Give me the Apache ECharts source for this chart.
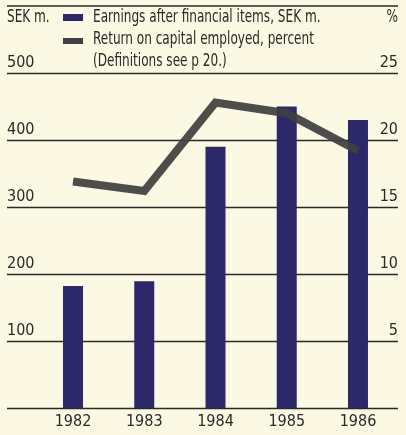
<!DOCTYPE html>
<html>
<head>
<meta charset="utf-8">
<script src="https://cdn.jsdelivr.net/npm/echarts@6/dist/echarts.min.js"></script>
<style>
  html, body { margin: 0; padding: 0; background: #fbf8e3; }
  #chart { width: 406px; height: 435px; }
</style>
</head>
<body>
<div id="chart"></div>
<script>
// Earnings and return on capital employed, 1982–1986
const years = ['1982', '1983', '1984', '1985', '1986'];
const earnings = [182, 189, 390, 450, 430];             // SEK m.
const returnOnCapital = [16.9, 16.2, 22.8, 22.0, 19.2]; // percent
const leftTicks = [0, 100, 200, 300, 400, 500];
const rightTicks = [0, 5, 10, 15, 20, 25];

const seriesNames = ['Earnings after financial items, SEK m.', 'Return on capital employed, percent'];
const noteText = '(Definitions see p 20.)';

const FONT = '"DejaVu Sans Condensed", "DejaVu Sans", sans-serif';
const INK = '#2a2a2a';
const BAR = '#2c2869';
const LINE = '#404040';
const SQUEEZE = 0.79; // horizontal compression for the condensed headline type

const chart = echarts.init(document.getElementById('chart'), null, { renderer: 'canvas' });

const labelStyle = {
  fontFamily: FONT, fontSize: 16, color: INK,
  verticalAlign: 'bottom', lineHeight: 16, padding: [0, 0, 2, 0]
};

function headText(text, x, y, align) {
  return {
    type: 'text', x: x, y: y, scaleX: SQUEEZE,
    style: { text: text, font: '17px ' + FONT, fill: INK, align: align || 'left', verticalAlign: 'middle' }
  };
}

chart.setOption({
  backgroundColor: '#fbf8e3',
  animation: false,
  grid: [
    // full-width frame carrying the rules and scale labels
    { left: 7, right: 8, top: 73, bottom: 27 },
    // plotting area for the bars and the line
    { left: 37.4, right: 12.4, top: 73, bottom: 27 }
  ],
  graphic: [
    { type: 'line', shape: { x1: 7, y1: 6, x2: 398, y2: 6 }, style: { stroke: INK, lineWidth: 1.5 } },
    headText('SEK m.', 7, 18),
    headText('%', 398, 18, 'right'),
    { type: 'rect', shape: { x: 63, y: 14, width: 20, height: 7 }, style: { fill: BAR } },
    headText(seriesNames[0], 93, 18),
    { type: 'rect', shape: { x: 63, y: 38, width: 20, height: 6 }, style: { fill: LINE } },
    headText(seriesNames[1], 93, 40),
    headText(noteText, 93, 62)
  ],
  xAxis: [
    { gridIndex: 0, type: 'value', min: 0, max: 1, show: false },
    {
      gridIndex: 1, type: 'category', data: years,
      axisLine: { show: false }, axisTick: { show: false },
      axisLabel: { fontFamily: FONT, fontSize: 16, color: INK, margin: 6 }
    }
  ],
  yAxis: [
    {
      gridIndex: 0, type: 'value', position: 'left',
      min: leftTicks[0], max: leftTicks[leftTicks.length - 1], interval: 100,
      axisLine: { show: false }, axisTick: { show: false },
      splitLine: { show: true, lineStyle: { color: INK, width: 1.4 } },
      axisLabel: Object.assign({ inside: true, margin: 0, align: 'left',
        formatter: v => (v === 0 ? '' : String(v)) }, labelStyle)
    },
    {
      gridIndex: 0, type: 'value', position: 'right',
      min: rightTicks[0], max: rightTicks[rightTicks.length - 1], interval: 5,
      axisLine: { show: false }, axisTick: { show: false }, splitLine: { show: false },
      axisLabel: Object.assign({ inside: true, margin: 0, align: 'right',
        formatter: v => (v === 0 ? '' : String(v)) }, labelStyle)
    },
    { gridIndex: 1, type: 'value', min: 0, max: 500, show: false },
    { gridIndex: 1, type: 'value', min: 0, max: 25, show: false }
  ],
  series: [
    {
      name: seriesNames[0],
      type: 'bar', xAxisIndex: 1, yAxisIndex: 2,
      barWidth: 20, data: earnings,
      itemStyle: { color: BAR }
    },
    {
      name: seriesNames[1],
      type: 'line', xAxisIndex: 1, yAxisIndex: 3,
      data: returnOnCapital, symbol: 'none',
      lineStyle: { color: LINE, width: 8, cap: 'butt', join: 'miter', opacity: 0.93 },
      itemStyle: { color: LINE }
    }
  ]
});
</script>
</body>
</html>
